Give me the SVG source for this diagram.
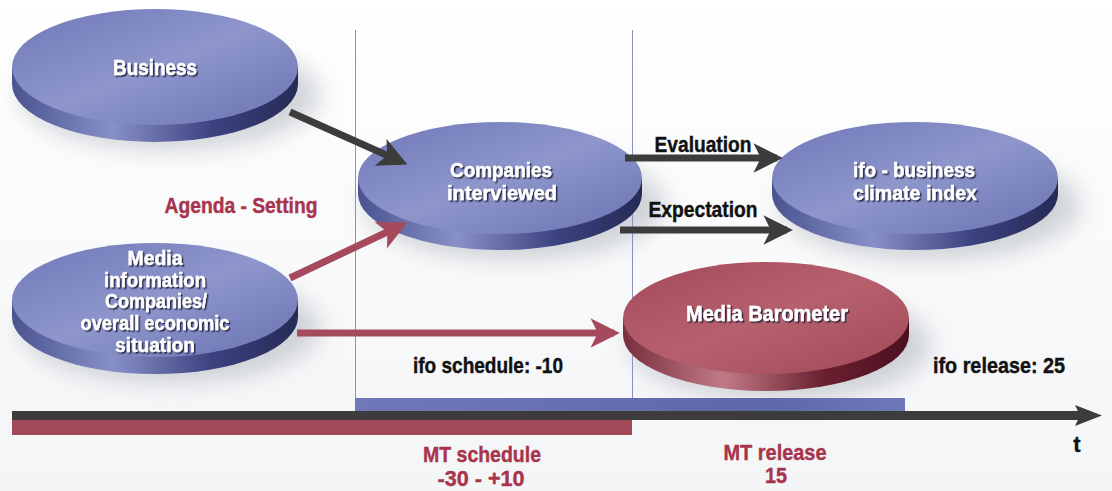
<svg xmlns="http://www.w3.org/2000/svg" width="1112" height="491" viewBox="0 0 1112 491">
<style>
.lbl{font-family:"Liberation Sans",Arial,sans-serif;font-weight:bold;font-size:22px;fill:#fff;stroke:#fff;stroke-width:0.4;text-anchor:middle;filter:url(#ts)}
.sm{font-size:20px}
.blk{font-family:"Liberation Sans",Arial,sans-serif;font-weight:bold;font-size:22px;fill:#111;stroke:#111;stroke-width:0.4;text-anchor:middle}
.red{font-family:"Liberation Sans",Arial,sans-serif;font-weight:bold;font-size:22px;fill:#a8344c;stroke:#a8344c;stroke-width:0.4;text-anchor:middle}
.vline{stroke:#8a90c4;stroke-width:1}
.arrD{stroke:#3c3c3c;stroke-width:7;fill:none;marker-end:url(#mD)}
.arrR{stroke:#a44a5c;stroke-width:7;fill:none;marker-end:url(#mR)}
.sideB{fill:url(#gSideB)}
.topB{fill:url(#gTopB)}
.sideR{fill:url(#gSideR)}
.topR{fill:url(#gTopR)}
.shadow{fill:#9aa0aa;opacity:0.45;filter:url(#blur)}
</style>
<defs>
<filter id="ts" x="-20%" y="-30%" width="140%" height="160%">
<feDropShadow dx="1.5" dy="1.5" stdDeviation="0.4" flood-color="#1a1a3a" flood-opacity="0.9"/>
</filter>
<filter id="blur" x="-30%" y="-50%" width="160%" height="200%"><feGaussianBlur stdDeviation="12"/></filter>
<linearGradient id="gTopB" x1="0" y1="0" x2="1" y2="1">
<stop offset="0" stop-color="#6f78b8"/><stop offset="0.5" stop-color="#8e96cc"/><stop offset="1" stop-color="#6a72b2"/>
</linearGradient>
<linearGradient id="gSideB" x1="0" y1="0" x2="1" y2="0">
<stop offset="0" stop-color="#4a5290"/><stop offset="0.35" stop-color="#8890c8"/><stop offset="0.7" stop-color="#3c4280"/><stop offset="1" stop-color="#262a55"/>
</linearGradient>
<linearGradient id="gTopR" x1="0" y1="0" x2="1" y2="1">
<stop offset="0" stop-color="#a44a5a"/><stop offset="0.5" stop-color="#b6606e"/><stop offset="1" stop-color="#a24856"/>
</linearGradient>
<linearGradient id="gSideR" x1="0" y1="0" x2="1" y2="0">
<stop offset="0" stop-color="#7a2e3e"/><stop offset="0.35" stop-color="#c07a86"/><stop offset="0.7" stop-color="#6a2030"/><stop offset="1" stop-color="#4a1020"/>
</linearGradient>
<linearGradient id="gBg" x1="0" y1="0" x2="0" y2="1">
<stop offset="0" stop-color="#ffffff"/><stop offset="1" stop-color="#f4f5f7"/>
</linearGradient>
<linearGradient id="gBlueBar" x1="0" y1="0" x2="1" y2="0">
<stop offset="0" stop-color="#7078ba"/><stop offset="0.75" stop-color="#5e67a8"/><stop offset="1" stop-color="#6f78b8"/>
</linearGradient>
<marker id="mD" viewBox="0 0 10 10" refX="8" refY="5" markerWidth="4.2" markerHeight="4.2" orient="auto" markerUnits="strokeWidth">
<path d="M0,0 L10,5 L0,10 L2.5,5 Z" fill="#3c3c3c"/>
</marker>
<marker id="mR" viewBox="0 0 10 10" refX="8" refY="5" markerWidth="4.2" markerHeight="4.2" orient="auto" markerUnits="strokeWidth">
<path d="M0,0 L10,5 L0,10 L2.5,5 Z" fill="#a44a5c"/>
</marker>
</defs>
<rect width="1112" height="491" fill="url(#gBg)"/>
<g id="shadows">
<ellipse class="shadow" cx="170" cy="95" rx="150" ry="55"/>
<ellipse class="shadow" cx="515" cy="205" rx="150" ry="55"/>
<ellipse class="shadow" cx="930" cy="205" rx="150" ry="55"/>
<ellipse class="shadow" cx="170" cy="328" rx="150" ry="55"/>
<ellipse class="shadow" cx="780" cy="345" rx="150" ry="55"/>
</g>
<g id="grid">
<line class="vline" x1="355.5" y1="30" x2="355.5" y2="398"/>
<line class="vline" x1="632.5" y1="30" x2="632.5" y2="398"/>
</g>
<g id="timeline">
<rect x="355" y="398" width="550" height="14" fill="url(#gBlueBar)"/>
<rect x="12" y="420" width="620" height="15" fill="#a24a5a"/>
<rect x="12" y="411" width="1070" height="9" fill="#3c3c3c"/>
<path d="M1075,405 L1102,415.5 L1075,426 L1080,415.5 Z" fill="#3c3c3c"/>
</g>
<g id="business">
<path class="sideB" d="M12,67 L12,84 A143,58 0 0 0 298,84 L298,67 Z"/>
<ellipse class="topB" cx="155" cy="67" rx="143" ry="58"/>
<text class="lbl" x="155" y="75" textLength="84" lengthAdjust="spacingAndGlyphs">Business</text>
</g>
<g id="companies">
<path class="sideB" d="M358,178 L358,194 A142,56 0 0 0 642,194 L642,178 Z"/>
<ellipse class="topB" cx="500" cy="178" rx="142" ry="56"/>
<text class="lbl sm" x="501" y="177" textLength="102" lengthAdjust="spacingAndGlyphs">Companies</text>
<text class="lbl sm" x="502" y="200" textLength="110" lengthAdjust="spacingAndGlyphs">interviewed</text>
</g>
<g id="ifo-index">
<path class="sideB" d="M772,178 L772,194 A143,56 0 0 0 1058,194 L1058,178 Z"/>
<ellipse class="topB" cx="915" cy="178" rx="143" ry="56"/>
<text class="lbl sm" x="914" y="177" textLength="122" lengthAdjust="spacingAndGlyphs">ifo - business</text>
<text class="lbl sm" x="915" y="200" textLength="124" lengthAdjust="spacingAndGlyphs">climate index</text>
</g>
<g id="media-info">
<path class="sideB" d="M12,300 L12,317 A143,57 0 0 0 298,317 L298,300 Z"/>
<ellipse class="topB" cx="155" cy="300" rx="143" ry="57"/>
<text class="lbl sm" x="155" y="265" textLength="55" lengthAdjust="spacingAndGlyphs">Media</text>
<text class="lbl sm" x="155" y="287" textLength="102" lengthAdjust="spacingAndGlyphs">information</text>
<text class="lbl sm" x="156" y="308" textLength="102" lengthAdjust="spacingAndGlyphs">Companies/</text>
<text class="lbl sm" x="155" y="330" textLength="149" lengthAdjust="spacingAndGlyphs">overall economic</text>
<text class="lbl sm" x="155" y="352" textLength="80" lengthAdjust="spacingAndGlyphs">situation</text>
</g>
<g id="media-barometer">
<path class="sideR" d="M623,318 L623,335 A143,56 0 0 0 909,335 L909,318 Z"/>
<ellipse class="topR" cx="766" cy="318" rx="143" ry="56"/>
<text class="lbl" x="767" y="321" textLength="162" lengthAdjust="spacingAndGlyphs">Media Barometer</text>
</g>
<g id="connectors">
<line class="arrD" x1="290" y1="112" x2="402" y2="162"/>
<line class="arrR" x1="290" y1="278" x2="402" y2="225"/>
<line class="arrR" x1="297" y1="333" x2="614" y2="333"/>
<line class="arrD" x1="625" y1="158" x2="777" y2="158"/>
<line class="arrD" x1="620" y1="230" x2="787" y2="230"/>
</g>
<g id="labels">
<text class="blk" x="703" y="152" textLength="97" lengthAdjust="spacingAndGlyphs">Evaluation</text>
<text class="blk" x="703" y="217" textLength="109" lengthAdjust="spacingAndGlyphs">Expectation</text>
<text class="red" x="241" y="213" textLength="153" lengthAdjust="spacingAndGlyphs">Agenda - Setting</text>
<text class="blk" x="488" y="373" textLength="150" lengthAdjust="spacingAndGlyphs">ifo schedule: -10</text>
<text class="blk" x="999" y="373" textLength="132" lengthAdjust="spacingAndGlyphs">ifo release: 25</text>
<text class="red" x="482" y="462" textLength="118" lengthAdjust="spacingAndGlyphs">MT schedule</text>
<text class="red" x="481" y="486" textLength="87" lengthAdjust="spacingAndGlyphs">-30 - +10</text>
<text class="red" x="775" y="460" textLength="103" lengthAdjust="spacingAndGlyphs">MT release</text>
<text class="red" x="776" y="483" textLength="22" lengthAdjust="spacingAndGlyphs">15</text>
<text class="blk" x="1077" y="452">t</text>
</g>
</svg>
